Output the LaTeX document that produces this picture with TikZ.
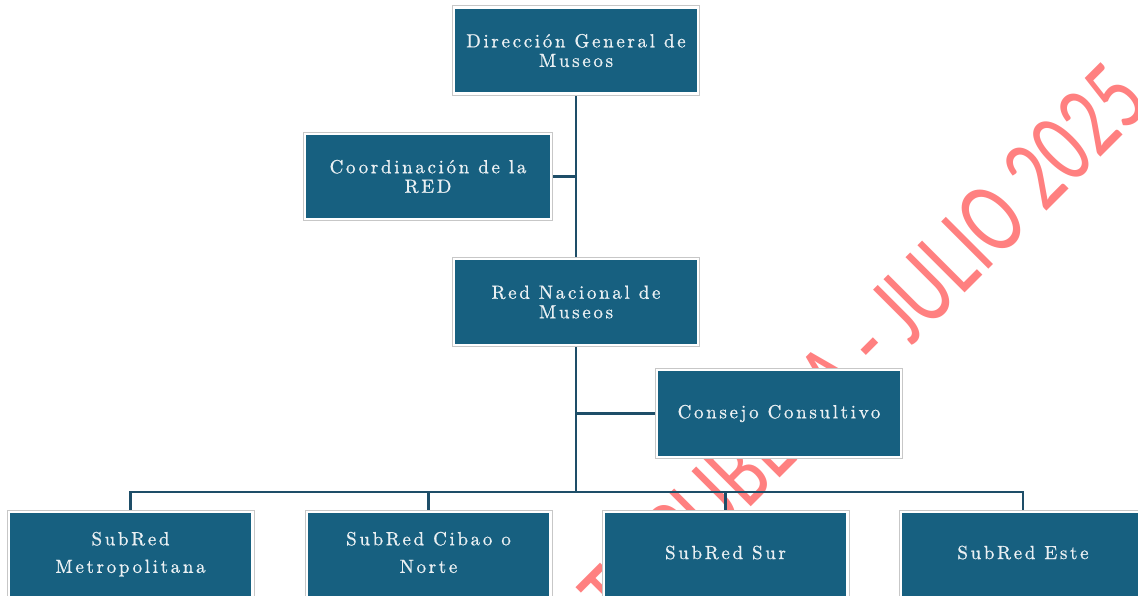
\documentclass[tikz,border=0pt]{standalone}
\usepackage{fontspec}
\newfontfamily\boxfont[Extension=.otf,LetterSpace=14,FakeBold=0.8]{lmroman10-regular}
\newfontfamily\wmfont{Carlito}
\pgfdeclarelayer{background}
\pgfsetlayers{background,main}
\definecolor{boxblue}{RGB}{23,96,128}
\definecolor{linecol}{RGB}{30,78,104}
\definecolor{wmred}{RGB}{255,128,128}
\definecolor{boxtext}{RGB}{234,240,243}
\newcommand{\botlbl}[1]{\raisebox{0pt}[\height][\dimexpr\depth+13pt\relax]{\begin{tabular}{@{}c@{}}#1\end{tabular}}}
\begin{document}
\begin{tikzpicture}[x=1pt,y=-1pt,
  orgbox/.style={rectangle, inner sep=0pt, outer sep=0pt, fill=boxblue,
    draw=white, line width=2.4pt, preaction={draw=black!22, line width=4.4pt},
    text=boxtext, font=\boxfont\fontsize{19}{19.5}\selectfont, align=center,
    minimum width=244pt, minimum height=86pt},
  botbox/.style={orgbox, font=\boxfont\fontsize{19}{27.6}\selectfont,
    minimum width=243.6pt, minimum height=95.6pt},
  conn/.style={draw=linecol, line width=2.5pt},
  wm/.style={anchor=base east, rotate=45, xscale=0.72, transform shape,
    font=\wmfont\fontsize{104}{104}\selectfont, text=wmred, inner sep=0pt}]
\useasboundingbox (0,0) rectangle (1138,596);
% boxes
\node[orgbox] (dg) at (576,50.5) {Dirección General de\\Museos};
\node[orgbox, minimum width=245.6pt, minimum height=84.6pt] (coord) at (428,176.5) {Coordinación de la\\RED};
\node[orgbox, minimum height=85.6pt] (rn) at (576,302) {Red Nacional de\\Museos};
\node[orgbox, minimum width=243.6pt, minimum height=86.6pt] (cc) at (779,413.5) {Consejo Consultivo};
\node[botbox] (metro) at (130.5,560) {\botlbl{SubRed\\Metropolitana}};
\node[botbox] (cibao) at (428.5,560) {\botlbl{SubRed Cibao o\\Norte}};
\node[botbox] (sur) at (725.5,560) {\botlbl{SubRed Sur}};
\node[botbox] (este) at (1023,560) {\botlbl{SubRed Este}};
\begin{pgfonlayer}{background}
\node[wm] (wmark) at (1152,106) {CONSULTA PUBLICA - JULIO 2025};
\coordinate (bus) at (576,492);
\draw[conn] (dg.south) -- (rn.north);
\draw[conn] (coord.east) -- (coord.east -| dg.south);
\draw[conn] (rn.south) -- (bus);
\draw[conn] (cc.west) -- (cc.west -| rn.south);
\draw[conn, line cap=rect] (bus -| metro.north) -- (bus -| este.north);
\foreach \n in {metro,cibao,sur,este} \draw[conn] (bus -| \n.north) -- (\n.north);
\end{pgfonlayer}
\end{tikzpicture}
\end{document}
